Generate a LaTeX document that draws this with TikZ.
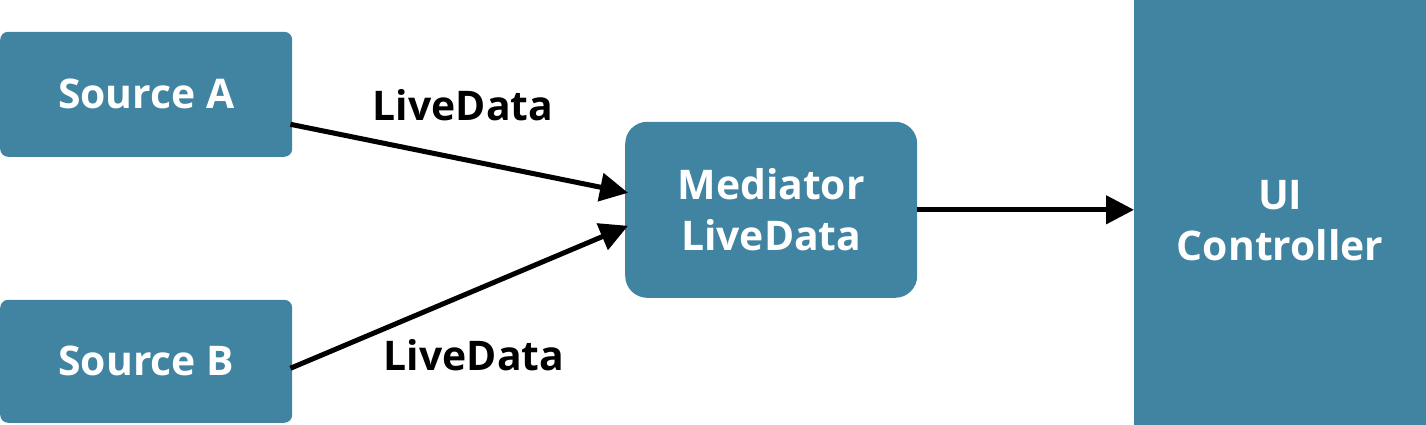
\documentclass[tikz,border=0pt]{standalone}
\usepackage{fontspec}
\setmainfont{Open Sans}
\usetikzlibrary{arrows.meta,calc}
\definecolor{boxblue}{HTML}{4184A2}
\begin{document}
\begin{tikzpicture}[x=1bp,y=1bp,
  box/.style={fill=boxblue,text=white,font=\fontsize{41}{51}\selectfont\bfseries,align=center,inner sep=0pt,anchor=south west},
  lbl/.style={text=black,font=\fontsize{41}{51}\selectfont\bfseries,inner sep=0pt},
  conn/.style={line width=5bp,-{Triangle[length=28bp,width=28bp]}}]
\useasboundingbox (0,0) rectangle (1426,424);
\node[box,rounded corners=8bp,minimum width=292bp,minimum height=125bp] (srcA) at (0,267) {Source A};
\node[box,rounded corners=8bp,minimum width=292bp,minimum height=123bp] (srcB) at (0,1) {Source B};
\node[box,rounded corners=22bp,minimum width=292bp,minimum height=176bp] (med) at (625,126) {Mediator\\LiveData};
\node[box,minimum width=292bp,minimum height=442bp] (ui) at (1134,-18) {UI\\Controller};
\draw[conn] ($(srcA.east)+(-2,-30)$) -- ($(med.west)+(3,17)$);
\draw[conn] ($(srcB.east)+(-2,-7)$) -- ($(med.west)+(3,-16)$);
\draw[conn] (med.east) -- (med.east -| ui.west);
\node[lbl] (la) at (463,319) {LiveData};
\node[lbl] (lb) at (474,69) {LiveData};
\end{tikzpicture}
\end{document}
